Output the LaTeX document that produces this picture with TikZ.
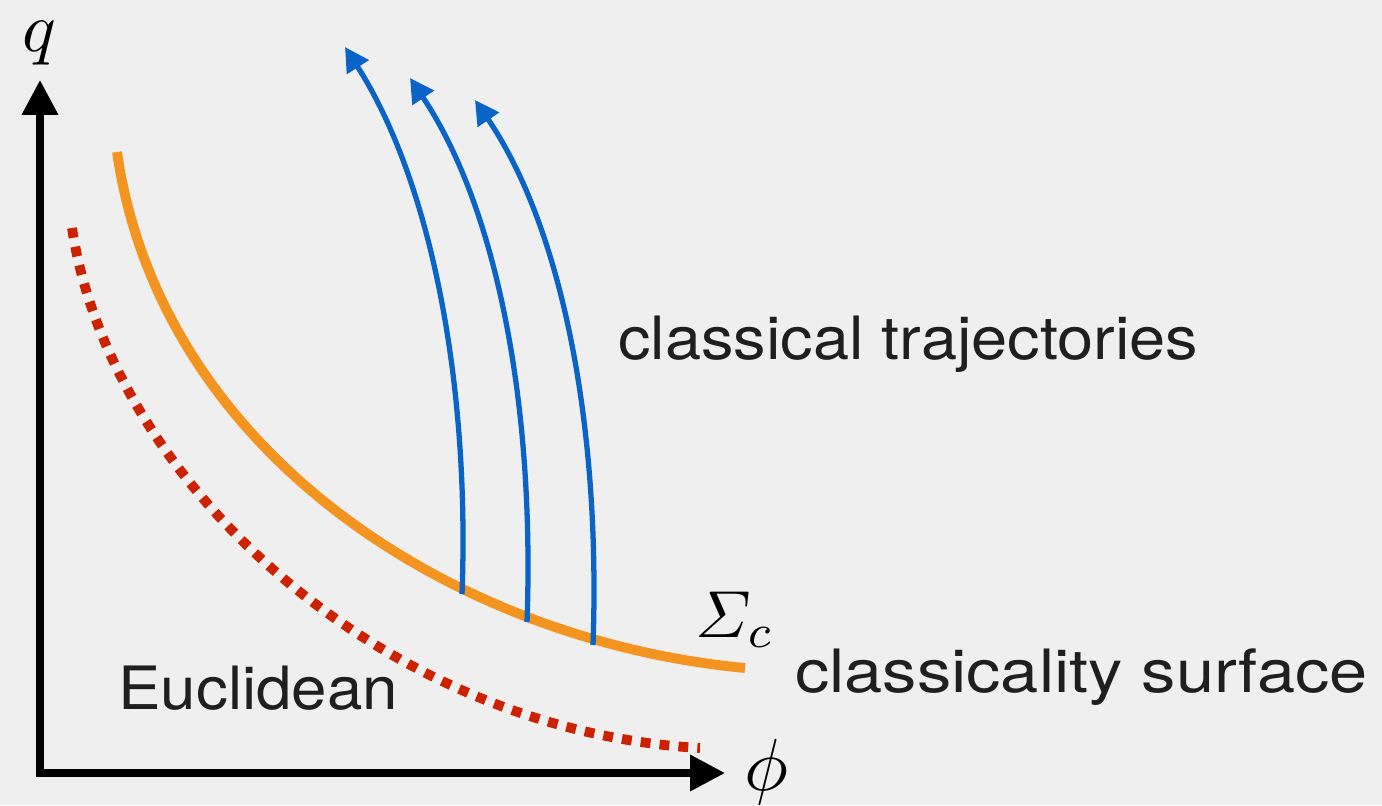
\documentclass[tikz,border=0pt]{standalone}
\usepackage{amsmath}
\usepackage{fontspec}
\setsansfont{TeX Gyre Heros}
\usetikzlibrary{arrows.meta}
\usepackage{xcolor}
\definecolor{bgcol}{HTML}{EFEFEF}
\definecolor{surfcol}{HTML}{F39320}
\definecolor{euclcol}{HTML}{CC2200}
\definecolor{trajcol}{HTML}{0A64C8}

\tikzset{
  axis/.style = {line width=4pt, {Triangle[length=0.7cm,width=0.7cm]}-{Triangle[length=0.7cm,width=0.7cm]}},
  surf/.style = {line width=5.6pt, surfcol},
  eucl/.style = {line width=5.6pt, euclcol, dash pattern=on 5.6pt off 5.2pt},
  traj/.style = {line width=3pt, trajcol, -{Triangle[length=0.48cm,width=0.5cm]}},
  lbl/.style  = {font=\sffamily\fontsize{34}{40}\selectfont, text=black!88, inner sep=0pt},
  mathlbl/.style = {inner sep=0pt, scale=4.2},
}

\begin{document}
\begin{tikzpicture}[x=0.02cm, y=-0.02cm]

    \fill[bgcol] (0,0) rectangle (1382,805);

    % axes
    \coordinate (O) at (40,773);
    \coordinate (qtip) at (40,80);
    \coordinate (phitip) at (725,773);
    \draw[axis] (qtip) -- (O) -- (phitip);
    \node[mathlbl, scale=0.95] (qlab) at (39,43) {$q$};
    \node[mathlbl] (philab) at (766,772) {$\phi$};

    % curves
    \draw[eucl] (72,228) .. controls (110,480) and (380,730) .. (700,748);
    \draw[surf] (117,152) .. controls (160,450) and (450,640) .. (745,668);

    % trajectories
    \coordinate (s1) at (462,594);
    \coordinate (s2) at (527,622);
    \coordinate (s3) at (593,645);
    \coordinate (e1) at (345,47);
    \coordinate (e2) at (410,78);
    \coordinate (e3) at (475,100);
    \draw[traj] (s1) .. controls (470,380) and (430,180) .. (e1);
    \draw[traj] (s2) .. controls (535,400) and (495,205) .. (e2);
    \draw[traj] (s3) .. controls (601,420) and (560,225) .. (e3);

    % labels
    \node[lbl, xscale=1.087, anchor=base west] (trajlab) at (618,359) {classical trajectories};
    \node[lbl, xscale=1.147, anchor=base west] (surflab) at (795,692) {classicality surface};
    \node[lbl, xscale=1.066, anchor=base west] (eucllab) at (118,709) {Euclidean};
    \node[mathlbl, scale=0.9] (sigmalab) at (735,620) {$\varSigma_c$};

\end{tikzpicture}
\end{document}
